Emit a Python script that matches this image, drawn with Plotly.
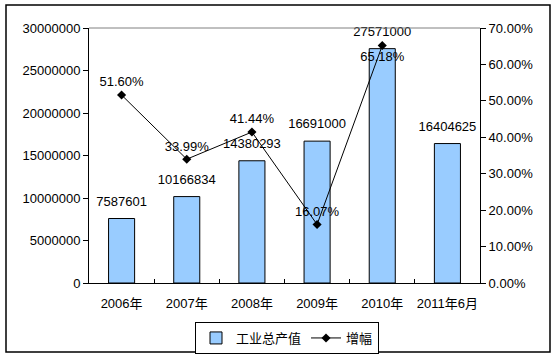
import plotly.graph_objects as go

categories = ["2006年", "2007年", "2008年", "2009年", "2010年", "2011年6月"]
output_values = [7587601, 10166834, 14380293, 16691000, 27571000, 16404625]
growth_values = [0.5160, 0.3399, 0.4144, 0.1607, 0.6518, None]
growth_labels = ["51.60%", "33.99%", "41.44%", "16.07%", "65.18%", ""]
growth_text_pos = ["top center", "top center", "top center", "top center", "bottom center", "top center"]
left_ticks = [0, 5000000, 10000000, 15000000, 20000000, 25000000, 30000000]
right_ticks = [0, 0.1, 0.2, 0.3, 0.4, 0.5, 0.6, 0.7]
right_tick_labels = ["0.00%", "10.00%", "20.00%", "30.00%", "40.00%", "50.00%", "60.00%", "70.00%"]

FONT = "Arial, 'Liberation Sans', 'Noto Sans CJK SC', sans-serif"

fig = go.Figure()
fig.add_trace(go.Bar(
    x=categories, y=output_values, name="工业总产值",
    marker=dict(color="#99CCFF", line=dict(color="black", width=1)),
    yaxis="y",
))
fig.add_trace(go.Scatter(
    x=categories, y=output_values, mode="markers+text", yaxis="y",
    marker=dict(size=14, opacity=0),
    text=[str(v) for v in output_values], textposition="top center",
    textfont=dict(size=13, color="black", family=FONT),
    showlegend=False, cliponaxis=False, hoverinfo="skip",
))
fig.add_trace(go.Scatter(
    x=categories, y=growth_values, name="增幅", yaxis="y2",
    mode="lines+markers+text",
    line=dict(color="black", width=1),
    marker=dict(symbol="diamond", size=7, color="black"),
    text=growth_labels, textposition=growth_text_pos,
    textfont=dict(size=13, color="black", family=FONT),
    cliponaxis=False,
))

W, H = 557, 357
L, R, T, B = 89, 77, 28, 74
pw, ph = W - L - R, H - T - B

def px_x(x):
    return (x - L) / pw

def px_y(y):
    return (H - B - y) / ph

fig.update_layout(
    width=W, height=H,
    margin=dict(l=L, r=R, t=T, b=B, autoexpand=False),
    paper_bgcolor="white", plot_bgcolor="white",
    font=dict(family=FONT, size=13, color="black"),
    bargap=0.6,
    showlegend=True,
    legend=dict(
        orientation="h", xref="container", yref="container",
        x=195 / W, xanchor="left", y=1 - 322 / H, yanchor="top",
        bordercolor="black", borderwidth=1, font=dict(size=13),
        itemwidth=30, tracegroupgap=0,
    ),
    xaxis=dict(
        type="category", showline=True, linecolor="black", linewidth=1,
        ticks="inside", tickson="boundaries", ticklen=4, tickcolor="black",
        showgrid=False, tickfont=dict(size=13), tickangle=0, ticklabelstandoff=8,
    ),
    yaxis=dict(
        range=[0, 30000000], tickvals=left_ticks, ticktext=[str(v) for v in left_ticks],
        showline=True, linecolor="black", linewidth=1,
        ticks="outside", ticklen=5, tickcolor="black",
        showgrid=False, zeroline=False, tickfont=dict(size=13),
    ),
    yaxis2=dict(
        range=[0, 0.7], tickvals=right_ticks, ticktext=right_tick_labels,
        overlaying="y", side="right",
        showline=True, linecolor="black", linewidth=1,
        ticks="outside", ticklen=5, tickcolor="black",
        showgrid=False, zeroline=False, tickfont=dict(size=13),
    ),
    shapes=[
        dict(type="line", xref="paper", yref="paper", x0=0, x1=1, y0=1, y1=1,
             line=dict(color="#808080", width=1)),
        dict(type="rect", xref="paper", yref="paper",
             x0=px_x(6), x1=px_x(550), y0=px_y(352), y1=px_y(5),
             line=dict(color="black", width=1.5), fillcolor="rgba(0,0,0,0)"),
    ],
)

fig.write_html("out.html", config={"displayModeBar": False},
               post_script="document.body.style.margin='0';document.body.style.overflow='hidden';")
